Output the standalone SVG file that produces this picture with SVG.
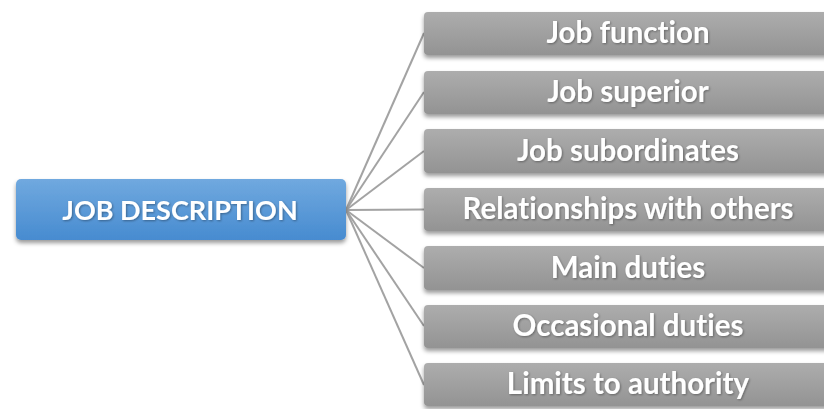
<svg xmlns="http://www.w3.org/2000/svg" width="824" height="409" viewBox="0 0 824 409">
<defs>
<linearGradient id="gBlue" x1="0" y1="0" x2="0" y2="1">
<stop offset="0" stop-color="#70a9df"/>
<stop offset="1" stop-color="#478bd0"/>
</linearGradient>
<linearGradient id="gGray" x1="0" y1="0" x2="0" y2="1">
<stop offset="0" stop-color="#adadad"/>
<stop offset="1" stop-color="#939393"/>
</linearGradient>
<filter id="sh" x="-10%" y="-30%" width="120%" height="170%">
<feDropShadow dx="0" dy="3" stdDeviation="2" flood-color="#000" flood-opacity="0.4"/>
</filter>
<filter id="tsh" x="-10%" y="-30%" width="120%" height="170%">
<feDropShadow dx="1" dy="1" stdDeviation="0.8" flood-color="#000" flood-opacity="0.35"/>
</filter>
</defs>
<style>
.box{fill:url(#gGray);filter:url(#sh)}
.lbl{font-family:Lato,"Liberation Sans",sans-serif;font-weight:bold;font-size:29.5px;fill:#fff;text-anchor:middle;filter:url(#tsh);font-variant-ligatures:none;font-feature-settings:"liga" 0}
.conn line{stroke:#a3a3a3;stroke-width:2}
</style>
<rect width="824" height="409" fill="#fff"/>
<g id="connectors" class="conn">
<line x1="346" y1="210" x2="424" y2="33"/>
<line x1="346" y1="210" x2="424" y2="92"/>
<line x1="346" y1="210" x2="424" y2="151"/>
<line x1="346" y1="210" x2="424" y2="209.5"/>
<line x1="346" y1="210" x2="424" y2="268"/>
<line x1="346" y1="210" x2="424" y2="326"/>
<line x1="346" y1="210" x2="424" y2="385"/>
</g>
<g id="root">
<rect x="16" y="179" width="330" height="61" rx="5" fill="url(#gBlue)" filter="url(#sh)"/>
<text x="180" y="220" class="lbl" style="font-size:27px">JOB DESCRIPTION</text>
</g>
<g id="n1"><rect class="box" x="424" y="12" width="410" height="43" rx="4"/><text class="lbl" x="628" y="43">Job function</text></g>
<g id="n2"><rect class="box" x="424" y="71" width="410" height="43" rx="4"/><text class="lbl" x="628" y="102">Job superior</text></g>
<g id="n3"><rect class="box" x="424" y="129" width="410" height="44" rx="4"/><text class="lbl" x="628" y="161">Job subordinates</text></g>
<g id="n4"><rect class="box" x="424" y="188" width="410" height="43" rx="4"/><text class="lbl" x="628" y="219">Relationships with others</text></g>
<g id="n5"><rect class="box" x="424" y="246" width="410" height="44" rx="4"/><text class="lbl" x="628" y="278">Main duties</text></g>
<g id="n6"><rect class="box" x="424" y="305" width="410" height="43" rx="4"/><text class="lbl" x="628" y="336">Occasional duties</text></g>
<g id="n7"><rect class="box" x="424" y="363" width="410" height="43" rx="4"/><text class="lbl" x="628" y="394">Limits to authority</text></g>
</svg>
